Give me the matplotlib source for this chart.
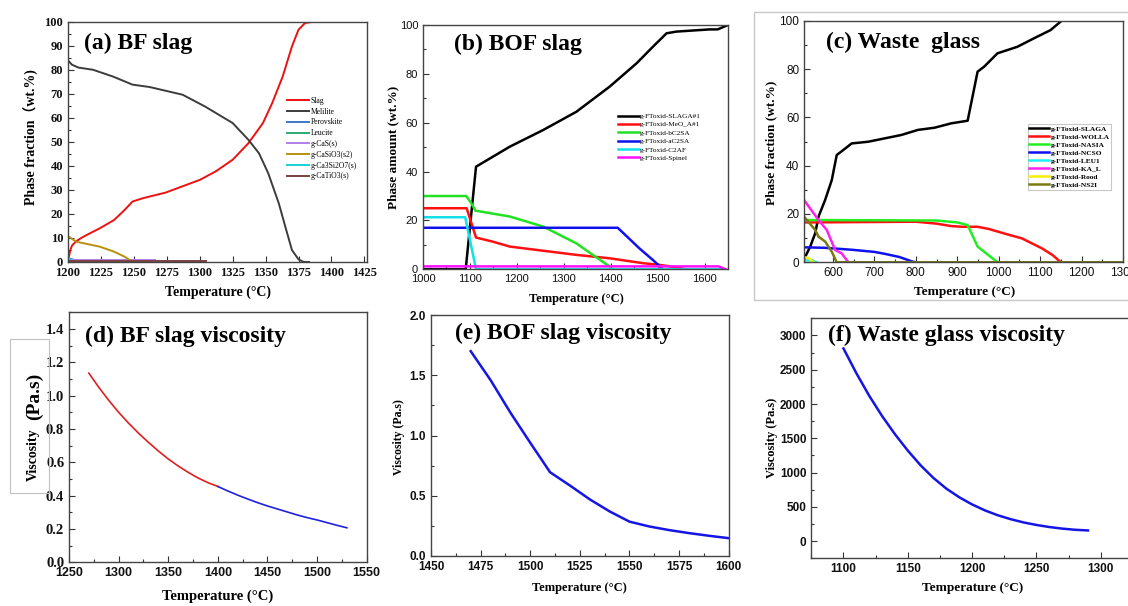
import matplotlib
matplotlib.use('Agg')
import matplotlib.pyplot as plt
from matplotlib.patches import Rectangle
from matplotlib.ticker import MultipleLocator

W, H = 1128, 606
SERIF = 'Liberation Serif'
SANS = 'Liberation Sans'

# ---------------- (a) BF slag phase fractions ----------------
a_slag_T = [1200, 1200.8, 1201.8, 1203, 1206, 1210, 1215, 1224, 1235, 1243, 1249, 1257, 1274, 1300,
            1312, 1325, 1337, 1348, 1355, 1363, 1370, 1375, 1380, 1385, 1427]
a_slag = [0, 2.5, 5, 6.8, 8.6, 10, 11.5, 14, 17.5, 21.7, 25.2, 26.6, 28.9, 34.2,
          37.7, 42.6, 49.5, 57.9, 66.2, 77.3, 89.8, 96.8, 99.6, 100, 100]
a_mel_T = [1200, 1203, 1208, 1219, 1234, 1249, 1262, 1287, 1304, 1325, 1337, 1345, 1352,
           1360, 1365, 1370, 1375, 1379, 1383]
a_mel = [84, 82.2, 81, 80.1, 77.3, 73.9, 72.9, 69.7, 64.8, 57.9, 50.9, 45.3, 37,
         24.5, 14.7, 5, 1.1, 0, 0]
a_perov_T, a_perov = [1200, 1204, 1206], [1.5, 1.0, 0]
a_leuc_T, a_leuc = [1200, 1202], [1.0, 0]
a_cas_T, a_cas = [1200, 1266], [0.8, 0.8]
a_casio3_T = [1200, 1206, 1224, 1235, 1243, 1249]
a_casio3 = [10.8, 8.5, 6.4, 4.3, 2.2, 0]
a_c3s2_T, a_c3s2 = [1200, 1202.5], [2.3, 0]
a_catio3_T, a_catio3 = [1200, 1305], [0.3, 0.3]
a_labels = ['Slag', 'Melilite', 'Perovskite', 'Leucite', 'g-CaS(s)', 'g-CaSiO3(s2)',
            'g-Ca3Si2O7(s)', 'g-CaTiO3(s)']

# ---------------- (b) BOF slag phase amounts ----------------
b_slaga_T = [1000, 1091, 1113, 1149, 1185, 1256, 1327, 1398, 1455, 1490, 1519, 1540, 1611, 1628, 1650]
b_slaga = [0, 0, 42, 46.1, 50.2, 57, 64.5, 74.8, 84.3, 91.1, 96.6, 97.3, 98.2, 98.2, 100]
b_meo_T = [1000, 1093, 1113, 1149, 1185, 1256, 1327, 1398, 1469, 1504, 1540, 1560]
b_meo = [25, 25, 13, 11.3, 9.3, 7.6, 5.9, 4.5, 2.5, 1.8, 0.8, 0]
b_bc2s_T = [1000, 1092, 1103, 1112, 1185, 1256, 1327, 1362, 1398, 1405]
b_bc2s = [30, 30, 27, 24, 21.6, 17.5, 10.6, 5.9, 1.1, 0]
b_ac2s_T = [1000, 1415, 1461, 1490, 1511]
b_ac2s = [17, 17, 8.6, 3.8, 0]
b_c2af_T = [1000, 1090, 1113, 1640]
b_c2af = [21.3, 21.3, 0, 0]
b_spin_T = [1000, 1630, 1645]
b_spin = [1.2, 1.2, 0]
b_labels = ['g-FToxid-SLAGA#1', 'g-FToxid-MeO_A#1', 'g-FToxid-bC2SA', 'g-FToxid-aC2SA',
            'g-FToxid-C2AF', 'g-FToxid-Spinel']

# ---------------- (c) Waste glass phase fractions ----------------
c_slaga_T = [530, 533, 545, 557, 565, 581, 597, 609, 625, 645, 685, 725, 765, 805, 845, 885, 925,
             949, 965, 997, 1045, 1085, 1125, 1152, 1300]
c_slaga = [0, 2.3, 6.5, 12, 18.9, 25.8, 34, 44.4, 46.5, 49.2, 49.9, 51.3, 52.7, 54.8, 55.7, 57.5, 58.6,
           78.9, 81, 86.5, 89.2, 92.7, 96.1, 100, 100]
c_wolla_T = [530, 800, 850, 885, 912, 949, 976, 1016, 1056, 1104, 1130, 1150]
c_wolla = [16.5, 16.8, 16, 15, 14.7, 14.7, 13.8, 11.8, 9.9, 5.8, 3, 0]
c_nasia_T = [530, 850, 900, 925, 949, 975, 997]
c_nasia = [17.5, 17.3, 16.5, 15.4, 6.5, 3, 0]
c_ncso_T = [530, 580, 645, 700, 725, 760, 790, 800]
c_ncso = [6.2, 6.0, 5.2, 4.3, 3.5, 2.2, 0.4, 0]
c_leu1_T, c_leu1 = [530, 550, 560], [0.8, 0.8, 0]
c_kal_T = [530, 565, 585, 605, 621, 637]
c_kal = [25.8, 17.5, 13.4, 5.1, 3.7, 0]
c_rood_T, c_rood = [530, 540, 553], [2.1, 1.8, 0]
c_ns2i_T = [530, 557, 565, 581, 597, 609, 1300]
c_ns2i = [18.9, 13.4, 10.6, 8.6, 4.4, 0, 0]
c_labels = ['g-FToxid-SLAGA', 'g-FToxid-WOLLA', 'g-FToxid-NASIA', 'g-FToxid-NCSO',
            'g-FToxid-LEU1', 'g-FToxid-KA_L', 'g-FToxid-Rood', 'g-FToxid-NS2I']

# ---------------- (d) BF slag viscosity ----------------
d_T_low = [1270, 1280, 1290, 1300, 1310, 1320, 1330, 1340, 1350, 1360, 1370, 1380, 1390, 1400]
d_visc_low = [1.135, 1.05, 0.972, 0.9, 0.835, 0.775, 0.72, 0.668, 0.62, 0.578, 0.54, 0.506, 0.478, 0.455]
d_T_high = [1400, 1410, 1420, 1430, 1440, 1450, 1460, 1470, 1480, 1490, 1500, 1510, 1520, 1530]
d_visc_high = [0.455, 0.428, 0.403, 0.38, 0.358, 0.338, 0.32, 0.302, 0.284, 0.268, 0.254, 0.238, 0.222, 0.207]

# ---------------- (e) BOF slag viscosity ----------------
e_T = [1470, 1480, 1490, 1500, 1510, 1520, 1530, 1540, 1550, 1560, 1570, 1580, 1590, 1600]
e_visc = [1.70, 1.46, 1.19, 0.94, 0.695, 0.585, 0.47, 0.37, 0.285, 0.245, 0.215, 0.19, 0.168, 0.148]

# ---------------- (f) Waste glass viscosity ----------------
f_T = [1100, 1110, 1120, 1130, 1140, 1150, 1160, 1170, 1180, 1190, 1200, 1210, 1220, 1230,
       1240, 1250, 1260, 1270, 1280, 1290]
f_visc = [2810, 2450, 2120, 1825, 1560, 1320, 1105, 920, 765, 640, 535, 448, 377, 320,
          273, 236, 206, 183, 166, 156]

fig = plt.figure(figsize=(W / 100, H / 100), dpi=100)
fig.patch.set_facecolor('white')


def pbox(l, t, r, b):
    return [l / W, 1 - b / H, (r - l) / W, (b - t) / H]


def ftext(x, y, s, **kw):
    return fig.text(x / W, 1 - y / H, s, **kw)


def style_axes(ax, tick_font, tick_size, tick_weight):
    for sp in ax.spines.values():
        sp.set_color('#444444')
        sp.set_linewidth(1.0)
    ax.tick_params(which='both', direction='in', colors='#333333', width=0.8)
    ax.tick_params(which='major', length=4)
    ax.tick_params(which='minor', length=2)
    for lab in ax.get_xticklabels() + ax.get_yticklabels():
        lab.set_fontfamily(tick_font)
        lab.set_fontsize(tick_size)
        lab.set_fontweight(tick_weight)
        lab.set_color('#111111')


def place_legend(ax, x, y, size, spacing, hlen, frame=False, weight='normal', pad=0.0):
    leg = ax.legend(loc='upper left', bbox_to_anchor=(x / W, 1 - y / H),
                    bbox_transform=fig.transFigure, frameon=frame, fontsize=size,
                    labelspacing=spacing, handlelength=hlen, handletextpad=0.15,
                    borderpad=pad, borderaxespad=0, prop={'family': SERIF, 'size': size,
                                                          'weight': weight})
    if frame:
        leg.get_frame().set_edgecolor('#bbbbbb')
        leg.get_frame().set_linewidth(0.8)
        leg.get_frame().set_boxstyle('square', pad=0)
    return leg


title_kw = dict(fontfamily=SERIF, fontweight='bold', fontsize=17, va='baseline', ha='left')
lab_kw = dict(fontfamily=SERIF, fontweight='bold', ha='center', va='center')

# ---------------- panel (a) ----------------
ax = fig.add_axes(pbox(68, 22, 367, 262))
lw = 1.4
ax.plot(a_slag_T, a_slag, color='#EE1111', lw=lw, label=a_labels[0])
ax.plot(a_mel_T, a_mel, color='#3C3C3C', lw=lw, label=a_labels[1])
ax.plot(a_perov_T, a_perov, color='#3B78C8', lw=lw, label=a_labels[2])
ax.plot(a_leuc_T, a_leuc, color='#2BAA72', lw=lw, label=a_labels[3])
ax.plot(a_cas_T, a_cas, color='#B27FE8', lw=lw, label=a_labels[4])
ax.plot(a_casio3_T, a_casio3, color='#B8900E', lw=lw, label=a_labels[5])
ax.plot(a_c3s2_T, a_c3s2, color='#19D0D6', lw=lw, label=a_labels[6])
ax.plot(a_catio3_T, a_catio3, color='#7A4040', lw=lw, label=a_labels[7])
ax.set_xlim(1200, 1427)
ax.set_ylim(0, 100)
ax.xaxis.set_major_locator(MultipleLocator(25))
ax.yaxis.set_major_locator(MultipleLocator(10))
ax.yaxis.set_minor_locator(MultipleLocator(5))
style_axes(ax, SERIF, 9, 'bold')
place_legend(ax, 287, 97, 5.5, 0.36, 2.9)
ftext(84, 49, '(a) BF slag', **title_kw)
fig.text(31.7 / W, 1 - 136.7 / H, 'Phase fraction（wt.%)', rotation=90, fontsize=10,
         family=[SERIF, 'Noto Sans CJK SC'], fontweight='bold', ha='center', va='center')
ftext(218, 292, 'Temperature (°C)', fontsize=10, **lab_kw)

# ---------------- panel (b) ----------------
ax = fig.add_axes(pbox(423, 25, 728, 269.3))
lw = 1.8
ax.plot(b_slaga_T, b_slaga, color='black', lw=lw, label=b_labels[0])
ax.plot(b_meo_T, b_meo, color='#FF1010', lw=lw, label=b_labels[1])
ax.plot(b_bc2s_T, b_bc2s, color='#22E022', lw=lw, label=b_labels[2])
ax.plot(b_ac2s_T, b_ac2s, color='#1010EE', lw=lw, label=b_labels[3])
ax.plot(b_c2af_T, b_c2af, color='#10E0E8', lw=lw, label=b_labels[4])
ax.plot(b_spin_T, b_spin, color='#FF10FF', lw=lw, label=b_labels[5])
ax.set_xlim(1000, 1650)
ax.set_ylim(0, 100)
ax.xaxis.set_major_locator(MultipleLocator(100))
ax.xaxis.set_minor_locator(MultipleLocator(50))
ax.yaxis.set_major_locator(MultipleLocator(20))
ax.yaxis.set_minor_locator(MultipleLocator(10))
style_axes(ax, SANS, 8, 'normal')
place_legend(ax, 618, 113, 5.2, 0.32, 2.9)
ftext(454, 50, '(b) BOF slag', **title_kw)
ftext(393, 147.5, 'Phase amount (wt.%)', rotation=90, fontsize=9.5, **lab_kw)
ftext(576, 299, 'Temperature (°C)', fontsize=9, **lab_kw)

# ---------------- panel (c) ----------------
ax = fig.add_axes(pbox(804, 20.7, 1123, 262.3))
lw = 1.8
ax.plot(c_slaga_T, c_slaga, color='black', lw=lw, label=c_labels[0])
ax.plot(c_wolla_T, c_wolla, color='#FF1010', lw=lw, label=c_labels[1])
ax.plot(c_nasia_T, c_nasia, color='#22EE22', lw=lw, label=c_labels[2])
ax.plot(c_ncso_T, c_ncso, color='#1010EE', lw=lw, label=c_labels[3])
ax.plot(c_leu1_T, c_leu1, color='#22F0F0', lw=lw, label=c_labels[4])
ax.plot(c_kal_T, c_kal, color='#FF22EE', lw=lw, label=c_labels[5])
ax.plot(c_rood_T, c_rood, color='#F5EE10', lw=lw, label=c_labels[6])
ax.plot(c_ns2i_T, c_ns2i, color='#7A7A10', lw=lw, label=c_labels[7])
ax.set_xlim(530, 1300)
ax.set_ylim(0, 100)
ax.xaxis.set_major_locator(MultipleLocator(100))
ax.xaxis.set_minor_locator(MultipleLocator(50))
ax.yaxis.set_major_locator(MultipleLocator(20))
ax.yaxis.set_minor_locator(MultipleLocator(10))
style_axes(ax, SANS, 8.5, 'normal')
place_legend(ax, 1027.5, 124, 5.3, 0.25, 2.7, frame=True, weight='bold', pad=0.25)
ftext(826, 47.7, '(c) Waste  glass', **title_kw)
ftext(771, 142.5, 'Phase fraction (wt.%)', rotation=90, fontsize=9.5, **lab_kw)
ftext(964.5, 292, 'Temperature (°C)', fontsize=9.5, **lab_kw)
fig.add_artist(Rectangle((753.7 / W, 1 - 300 / H), (W + 10 - 753.7) / W, (300 - 12) / H,
                         transform=fig.transFigure, fill=False, edgecolor='#c8c8c8', lw=1.0))

# ---------------- panel (d) ----------------
ax = fig.add_axes(pbox(69, 312.3, 366.7, 562.3))
ax.plot(d_T_low, d_visc_low, color='#E02020', lw=1.2)
ax.plot(d_T_high, d_visc_high, color='#2020E0', lw=1.2)
ax.set_xlim(1250, 1550)
ax.set_ylim(0, 1.5)
ax.xaxis.set_major_locator(MultipleLocator(50))
ax.xaxis.set_minor_locator(MultipleLocator(25))
ax.yaxis.set_major_locator(MultipleLocator(0.2))
ax.yaxis.set_minor_locator(MultipleLocator(0.1))
ax.yaxis.set_major_formatter(matplotlib.ticker.FormatStrFormatter('%.1f'))
style_axes(ax, SANS, 9, 'bold')
for lab in ax.get_yticklabels():
    lab.set_fontfamily(SERIF)
    lab.set_fontsize(10.5)
ftext(85, 341.7, '(d) BF slag viscosity', **title_kw)
ftext(33, 455, 'Viscosity', rotation=90, fontsize=10, **lab_kw)
ftext(34, 396.7, '(Pa.s)', rotation=90, fontsize=14, **lab_kw)
fig.add_artist(Rectangle((10 / W, 1 - 493.3 / H), 39.3 / W, 154 / H,
                         transform=fig.transFigure, fill=False, edgecolor='#c0c0c0', lw=0.8))
ftext(218, 596, 'Temperature (°C)', fontsize=10.5, **lab_kw)

# ---------------- panel (e) ----------------
ax = fig.add_axes(pbox(431, 315, 728.7, 556))
ax.plot(e_T, e_visc, color='#1515E5', lw=1.8)
ax.set_xlim(1450, 1600)
ax.set_ylim(0, 2.0)
ax.xaxis.set_major_locator(MultipleLocator(25))
ax.xaxis.set_minor_locator(MultipleLocator(12.5))
ax.yaxis.set_major_locator(MultipleLocator(0.5))
ax.yaxis.set_minor_locator(MultipleLocator(0.25))
ax.yaxis.set_major_formatter(matplotlib.ticker.FormatStrFormatter('%.1f'))
style_axes(ax, SANS, 8.5, 'bold')
ftext(455, 339.3, '(e) BOF slag viscosity', **title_kw)
ftext(399.3, 436.7, 'Viscosity (Pa.s)', rotation=90, fontsize=8.5, **lab_kw)
ftext(579.3, 587.5, 'Temperature (°C)', fontsize=9, **lab_kw)

# ---------------- panel (f) ----------------
ax = fig.add_axes(pbox(811.3, 318.3, 1133, 558.3))
ax.plot(f_T, f_visc, color='#1515E5', lw=1.8)
ax.set_xlim(1075, 1325)
ax.set_ylim(-250, 3250)
ax.xaxis.set_major_locator(MultipleLocator(50))
ax.xaxis.set_minor_locator(MultipleLocator(25))
ax.yaxis.set_major_locator(MultipleLocator(500))
ax.yaxis.set_minor_locator(MultipleLocator(250))
style_axes(ax, SANS, 8.5, 'bold')
ftext(828, 340.7, '(f) Waste glass viscosity', **title_kw)
ftext(772, 437.5, 'Viscosity (Pa.s)', rotation=90, fontsize=9, **lab_kw)
ftext(972.8, 587.5, 'Temperature (°C)', fontsize=9.5, **lab_kw)

fig.savefig('out.png', dpi=100, facecolor='white')
